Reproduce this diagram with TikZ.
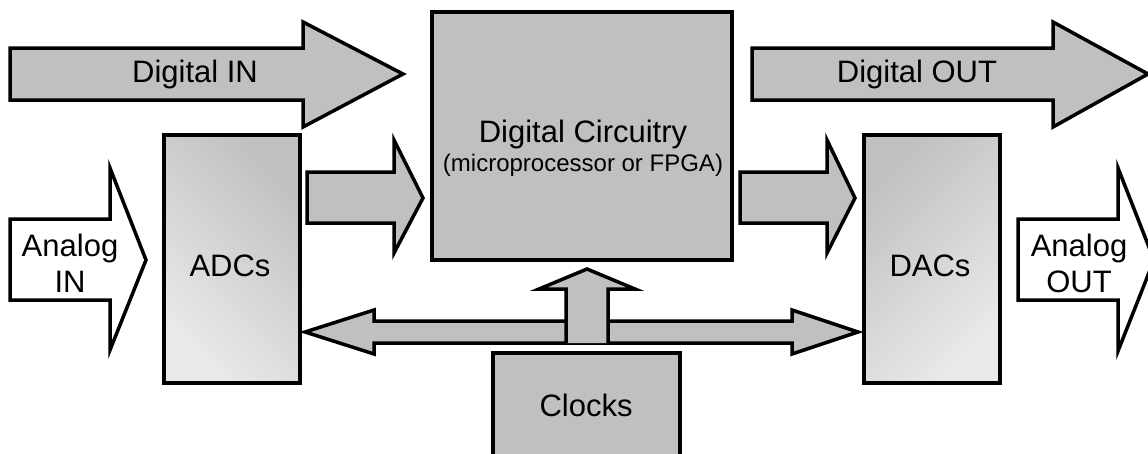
\documentclass[tikz,border=0pt]{standalone}
\usepackage{fontspec}
\setmainfont{Liberation Sans}
\definecolor{boxgray}{RGB}{192,192,192}
\definecolor{lightgray2}{RGB}{234,234,234}
\begin{document}
\begin{tikzpicture}[x=1pt,y=-1pt,
  blk/.style={draw=black,line width=3.5pt,line join=miter,fill=boxgray},
  wblk/.style={draw=black,line width=3.5pt,line join=miter,fill=white},
  lbl/.style={font=\fontsize{31}{36}\selectfont,align=center,inner sep=0pt},
  slbl/.style={font=\fontsize{24}{28}\selectfont,align=center,inner sep=0pt}]
\useasboundingbox (0,0) rectangle (1148,453);
\begin{scope}
\clip (0,0) rectangle (1148,453);
% Digital IN arrow
\draw[blk] (10,48) -- (303,48) -- (303,22) -- (403,74) -- (303,127) -- (303,100) -- (10,100) -- cycle;
% Digital OUT arrow
\draw[blk] (752,48) -- (1053,48) -- (1053,22) -- (1148,74) -- (1053,127) -- (1053,100) -- (752,100) -- cycle;
% Digital circuitry box
\draw[blk] (432,12) rectangle (732,260);
% ADCs box
\draw[draw=black,line width=3.5pt,left color=lightgray2,right color=boxgray,shading angle=135] (164,135) rectangle (300,383);
% DACs box
\draw[draw=black,line width=3.5pt,left color=lightgray2,right color=boxgray,shading angle=-135] (864,135) rectangle (1000,383);
% ADC -> DC
\draw[blk] (307,172) -- (394,172) -- (394,140) -- (423,198) -- (394,253) -- (394,223) -- (307,223) -- cycle;
% DC -> DAC
\draw[blk] (740,172) -- (827,172) -- (827,140) -- (855,198) -- (827,253) -- (827,223) -- (740,223) -- cycle;
% Analog IN
\draw[wblk] (10,219) -- (110,219) -- (110,168) -- (146,260) -- (110,350) -- (110,300) -- (10,300) -- cycle;
% Analog OUT
\draw[wblk] (1018,219) -- (1118,219) -- (1118,168) -- (1154,260) -- (1118,351) -- (1118,300) -- (1018,300) -- cycle;
% bus arrow
\draw[blk] (305,332) -- (374,310) -- (374,321) -- (792,321) -- (792,310) -- (858,332) -- (792,354) -- (792,343) -- (374,343) -- (374,354) -- cycle;
% up arrow
\draw[blk] (566,343) -- (566,289) -- (539,289) -- (587,269) -- (635,289) -- (608,289) -- (608,343);
\fill[boxgray] (568,318) rectangle (606,341);
% Clocks box
\draw[blk] (493,353) rectangle (680,470);
\end{scope}
% labels
\node[lbl] (din) at (195,74) {Digital IN};
\node[lbl] (dout) at (917,74) {Digital OUT};
\node[lbl] (dc) at (583,134) {Digital Circuitry};
\node[slbl] (dcsub) at (583,165) {(microprocessor or FPGA)};
\node[lbl] (adc) at (230,266) {ADCs};
\node[lbl] (dac) at (930,266) {DACs};
\node[lbl] (ain) at (70,263) {Analog\\IN};
\node[lbl] (aout) at (1079,263) {Analog\\OUT};
\node[lbl] (clk) at (586,405) {Clocks};
\end{tikzpicture}
\end{document}
